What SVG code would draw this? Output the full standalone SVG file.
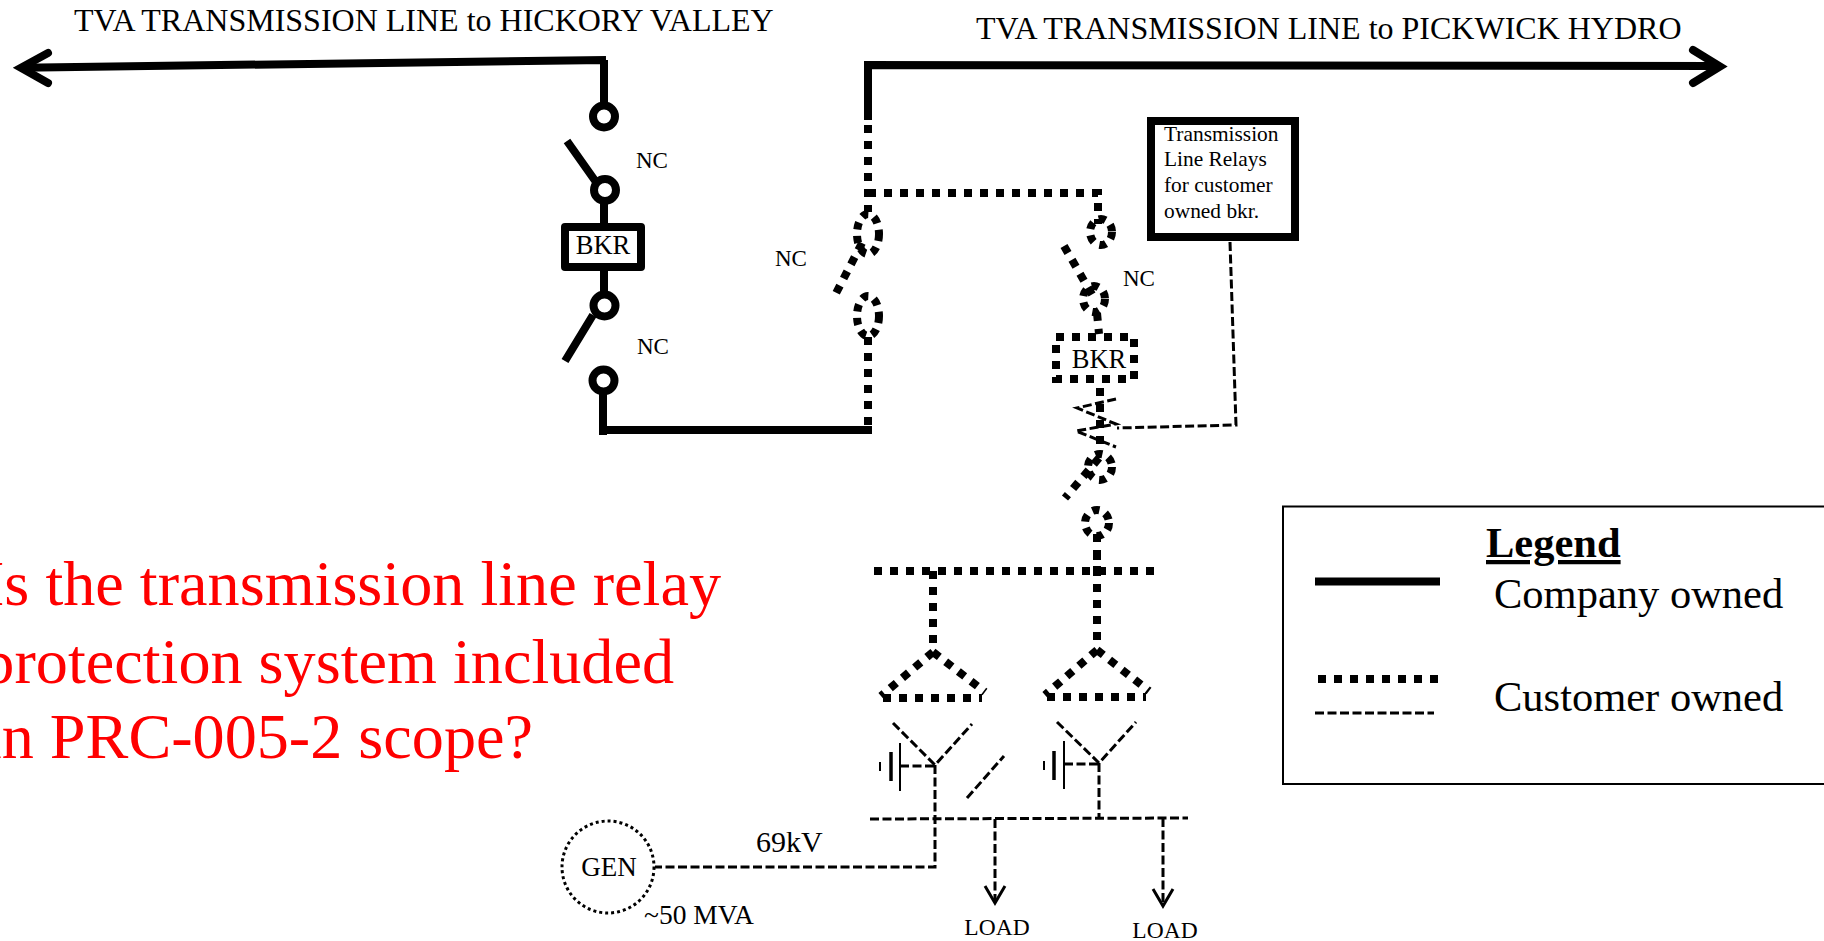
<svg xmlns="http://www.w3.org/2000/svg" width="1824" height="941" viewBox="0 0 1824 941">
<style>
text{font-family:"Liberation Serif","Times New Roman",serif;fill:#000}
.s,.d,.c,.t,.k{fill:none;stroke:#000}
.s{stroke-width:8}
.d{stroke-width:8;stroke-dasharray:8 8}
.c{stroke-width:8;stroke-dasharray:7 6.5}
.t{stroke-width:3;stroke-dasharray:9 3.5}
.k{stroke-width:3}
.nc{font-size:23px}
.red{font-size:64.2px;fill:#f00;text-anchor:end}
.title{font-size:32px}
.leg{font-size:42.5px}
</style>
<rect width="1824" height="941" fill="#fff"/>
<g id="connectors">
<path class="s" d="M22 67.7L606 60M604 60V103"/>
<path class="s" stroke-linecap="round" d="M48 53L21 67.7L48 83"/>
<path class="s" d="M868 120V65L1716 66"/>
<path class="s" stroke-linecap="round" d="M1693 50L1720 66.5L1693 83"/>
<path class="s" d="M604 202V225M604 271V293M603 393V435M599 430H872"/>
<path class="s" d="M567 141L596 182M565 361L593 315"/>
<path class="d" d="M868 125V212"/>
<path class="d" d="M868 193H1098V224"/>
<path class="d" d="M862 243L833 299"/>
<path class="d" d="M868 337V426"/>
<path class="d" d="M1064 246L1094 298"/>
<path class="d" d="M1097 313L1099 334"/>
<path class="d" d="M1100 388V445"/>
<path class="d" d="M1099 458L1065 498"/>
<path class="d" d="M1097 534V571"/>
<path class="d" d="M874 571H1154"/>
<path class="d" d="M933 571V648"/>
<path class="d" d="M1097 552V646"/>
<path class="t" d="M1116 399L1077 408L1116 424L1076 431L1116 447"/>
<path class="t" d="M1230 242L1236 425L1117 428"/>
<path class="t" d="M893 723L935 765L972 724M935 765V867H655"/>
<path class="t" d="M900 766H935"/>
<path class="t" d="M1057 722L1099 763L1136 722M1099 763V817"/>
<path class="t" d="M1064 764H1099"/>
<path class="t" d="M967 798L1004 756"/>
<path class="t" d="M870 819L1188 818"/>
<path class="t" d="M995 819V900"/>
<path class="t" d="M1163 818V903"/>
<path class="k" d="M985 886L995 903L1005 886M1153 889L1163 906L1173 889"/>
</g>
<g id="sw-hickory">
<circle class="s" cx="604" cy="116.5" r="11" fill="#fff"/>
<circle class="s" cx="605" cy="190" r="11"/>
<text x="636" y="168" class="nc">NC</text>
</g>
<g id="bkr-company">
<rect x="565" y="227" width="76" height="40" class="s" stroke-linejoin="round"/>
<text x="603" y="254" font-size="26.5" text-anchor="middle">BKR</text>
</g>
<g id="sw-company-lower">
<circle class="s" cx="604.5" cy="305.5" r="11"/>
<circle class="s" cx="603.5" cy="380.5" r="11"/>
<text x="637" y="354" class="nc">NC</text>
</g>
<g id="sw-customer-main">
<ellipse class="c" cx="868" cy="234" rx="11" ry="20"/>
<ellipse class="c" cx="868" cy="316" rx="11" ry="20"/>
<text x="775" y="266" class="nc">NC</text>
</g>
<g id="sw-customer-upper">
<ellipse class="c" cx="1101" cy="232" rx="11" ry="13"/>
<ellipse class="c" cx="1094" cy="299" rx="11" ry="13"/>
<text x="1123" y="286" class="nc">NC</text>
</g>
<g id="bkr-customer">
<rect x="1056" y="337" width="78" height="42" class="d"/>
<text x="1099" y="368" font-size="26.5" text-anchor="middle">BKR</text>
</g>
<g id="sw-customer-lower">
<ellipse class="c" cx="1100" cy="467" rx="12" ry="13"/>
<ellipse class="c" cx="1097" cy="523" rx="12" ry="13"/>
</g>
<g id="relay-box">
<rect x="1151" y="121" width="144" height="116" class="s"/>
<text x="1164" y="141" font-size="21.4">Transmission</text>
<text x="1164" y="166" font-size="21.4">Line Relays</text>
<text x="1164" y="192" font-size="21.4">for customer</text>
<text x="1164" y="218" font-size="21.4">owned bkr.</text>
</g>
<g id="transformer-left">
<path class="d" d="M933 652L881 696M933 652L985 692M883 698H982"/>
<path d="M880 762V771" stroke="#000" stroke-width="2"/>
<path d="M891 752V781" stroke="#000" stroke-width="3.5"/>
<path d="M900 743V791" stroke="#000" stroke-width="2"/>
</g>
<g id="transformer-right">
<path class="d" d="M1097 650L1045 695M1097 650L1149 691M1047 697H1146"/>
<path d="M1044 761V770" stroke="#000" stroke-width="2"/>
<path d="M1054 751V780" stroke="#000" stroke-width="3.5"/>
<path d="M1064 741V789" stroke="#000" stroke-width="2"/>
</g>
<g id="gen">
<circle cx="608" cy="867" r="46" fill="none" stroke="#000" stroke-width="3" stroke-dasharray="3 3"/>
<text x="609" y="876" font-size="27" text-anchor="middle">GEN</text>
</g>
<text x="756" y="852" font-size="30">69kV</text>
<text x="644" y="924" font-size="27.5">~50 MVA</text>
<text x="997" y="935" font-size="23.5" text-anchor="middle">LOAD</text>
<text x="1165" y="938" font-size="23.5" text-anchor="middle">LOAD</text>
<text x="74" y="31" class="title">TVA TRANSMISSION LINE to HICKORY VALLEY</text>
<text x="976" y="39" class="title">TVA TRANSMISSION LINE to PICKWICK HYDRO</text>
<text x="721" y="605" class="red">Is the transmission line relay</text>
<text x="674" y="683" class="red">protection system included</text>
<text x="533" y="758" class="red">in PRC-005-2 scope?</text>
<g id="legend">
<rect x="1283" y="506.5" width="560" height="277.5" fill="none" stroke="#000" stroke-width="2"/>
<text x="1486" y="557" class="leg" font-weight="bold" text-decoration="underline">Legend</text>
<text x="1494" y="608" class="leg">Company owned</text>
<text x="1494" y="711" class="leg">Customer owned</text>
<path class="s" d="M1315 581.5H1440"/>
<path class="d" d="M1318 679H1438"/>
<path class="t" d="M1315 713H1434" stroke-width="2" stroke-dasharray="6 2"/>
</g>
</svg>
